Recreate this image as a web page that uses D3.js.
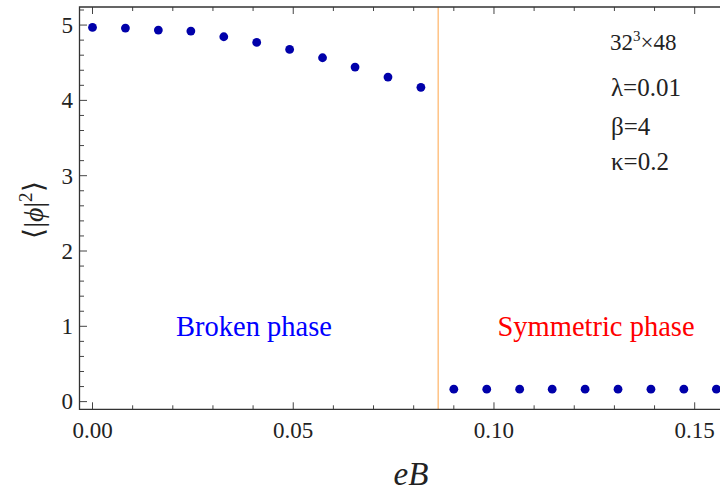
<!DOCTYPE html>
<html>
<head>
<meta charset="utf-8">
<script src="https://cdn.jsdelivr.net/npm/d3@7"></script>
<style>
  body { margin: 0; background: #fff; }
</style>
</head>
<body>
<div id="chart"></div>
<script>
var w = 720;
var h = 494;

// eB values and <|phi|^2>
var eB = [0, 0.0082, 0.0164, 0.0245, 0.0327, 0.0409, 0.0491, 0.0573, 0.0654, 0.0736,
  0.0818, 0.0900, 0.0982, 0.1064, 0.1145, 0.1227, 0.1309, 0.1391, 0.1473, 0.1554];
var phi2 = [4.969, 4.960, 4.934, 4.920, 4.845, 4.770, 4.677, 4.566, 4.442, 4.309,
  4.173, 0.165, 0.165, 0.165, 0.165, 0.165, 0.165, 0.165, 0.165, 0.165];
var transition = 0.0861;
var xTicks = [0, 0.05, 0.10, 0.15];
var yTicks = [0, 1, 2, 3, 4, 5];
var params = ["λ=0.01", "β=4", "κ=0.2"];

// plot box
var pL = 79.5, pR = 722, pT = 7, pB = 409.3;

var svg = d3.select("#chart").append("svg")
  .attr("width", w)
  .attr("height", h)
  .attr("font-family", "'Liberation Serif', 'Times New Roman', serif");

var x = d3.scaleLinear().domain([-0.00324, 0.1568]).range([pL, pR]);
var y = d3.scaleLinear().domain([-0.102, 5.24]).range([pB, pT]);

// transition line
svg.append("line")
  .attr("x1", x(transition)).attr("x2", x(transition))
  .attr("y1", pT).attr("y2", pB)
  .attr("stroke", "#ffb366")
  .attr("stroke-width", 1.2);

// ticks
var minorX = d3.range(0, 0.1601, 0.01);
var minorY = d3.range(0, 5.21, 0.2);

var tickColor = "#444";
minorX.forEach(function (v) {
  var major = Math.abs(v / 0.05 - Math.round(v / 0.05)) < 1e-6;
  var len = major ? 7 : 4;
  svg.append("line").attr("x1", x(v)).attr("x2", x(v))
    .attr("y1", pB).attr("y2", pB - len)
    .attr("stroke", tickColor).attr("stroke-width", 1);
  svg.append("line").attr("x1", x(v)).attr("x2", x(v))
    .attr("y1", pT).attr("y2", pT + len)
    .attr("stroke", tickColor).attr("stroke-width", 1);
});
minorY.forEach(function (v) {
  var major = Math.abs(v - Math.round(v)) < 1e-6;
  var len = major ? 7.5 : 4.5;
  svg.append("line").attr("x1", pL).attr("x2", pL + len)
    .attr("y1", y(v)).attr("y2", y(v))
    .attr("stroke", tickColor).attr("stroke-width", 1);
});

// frame
svg.append("path")
  .attr("d", "M" + pR + "," + pT + "H" + pL + "V" + pB + "H" + pR)
  .attr("fill", "none")
  .attr("stroke", "#333")
  .attr("stroke-width", 1.3);

// tick labels
svg.selectAll(".xl").data(xTicks).enter().append("text")
  .attr("x", function (d) { return x(d); })
  .attr("y", 438)
  .attr("text-anchor", "middle")
  .attr("font-size", 23)
  .attr("fill", "#222")
  .text(function (d) { return d.toFixed(2); });

svg.selectAll(".yl").data(yTicks).enter().append("text")
  .attr("x", 73)
  .attr("y", function (d) { return y(d); })
  .attr("dy", "0.34em")
  .attr("text-anchor", "end")
  .attr("font-size", 23)
  .attr("fill", "#222")
  .text(function (d) { return d; });

// axis titles
svg.append("text")
  .attr("x", 411).attr("y", 485)
  .attr("text-anchor", "middle")
  .attr("font-size", 33)
  .attr("font-style", "italic")
  .attr("fill", "#222")
  .text("eB");

var yl = svg.append("text")
  .attr("transform", "translate(43,210) rotate(-90)")
  .attr("text-anchor", "middle")
  .attr("font-size", 28)
  .attr("fill", "#222");
yl.append("tspan").text("⟨|");
yl.append("tspan").attr("font-style", "italic").text("ϕ");
yl.append("tspan").text("|");
yl.append("tspan").attr("font-size", 19).attr("dy", -11).text("2");
yl.append("tspan").attr("dy", 11).text("⟩");

// data points
svg.selectAll("circle")
  .data(eB)
  .enter()
  .append("circle")
  .attr("cx", function (d) { return x(d); })
  .attr("cy", function (d, i) { return y(phi2[i]); })
  .attr("r", 4.4)
  .attr("fill", "#0000aa");

// phase labels
svg.append("text")
  .attr("x", 254).attr("y", 336)
  .attr("text-anchor", "middle")
  .attr("font-size", 28.5)
  .attr("fill", "#0000ff")
  .text("Broken phase");
svg.append("text")
  .attr("x", 596).attr("y", 336)
  .attr("text-anchor", "middle")
  .attr("font-size", 28.5)
  .attr("fill", "#ff0000")
  .text("Symmetric phase");

// lattice parameters
var lat = svg.append("text")
  .attr("x", 610).attr("y", 50)
  .attr("font-size", 23)
  .attr("fill", "#222");
lat.append("tspan").text("32");
lat.append("tspan").attr("font-size", 15).attr("dy", -9).text("3");
lat.append("tspan").attr("dy", 9).text("×48");

svg.selectAll(".par").data(params).enter().append("text")
  .attr("x", 611)
  .attr("y", function (d, i) { return [96, 135, 170][i]; })
  .attr("font-size", 25)
  .attr("fill", "#222")
  .text(function (d) { return d; });
</script>
</body>
</html>
